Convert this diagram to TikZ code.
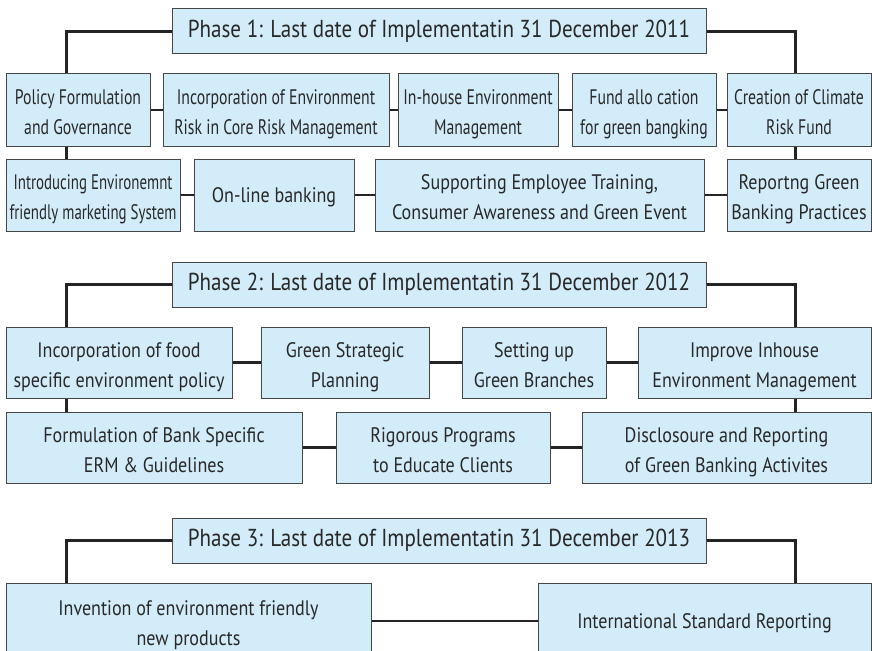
\documentclass[tikz,border=0pt]{standalone}
\usepackage{fontspec}
\setmainfont{PT Sans}
\newfontfamily\widefont[FakeStretch=0.86]{PT Sans}
\newfontfamily\tightfont[FakeStretch=0.75]{PT Sans}
\newfontfamily\squeezefont[FakeStretch=0.71]{PT Sans}
\usepackage{tikz}
\usetikzlibrary{positioning,calc}
\definecolor{boxfill}{RGB}{211,236,249}
\definecolor{boxline}{RGB}{70,70,70}
\definecolor{linkcol}{RGB}{35,35,35}
\definecolor{textcol}{RGB}{40,40,40}

\begin{document}
\begin{tikzpicture}[x=1pt,y=-1pt,phase/.style={draw=boxline,fill=boxfill,line width=1pt,minimum width=534pt,minimum height=45pt,inner sep=0pt,text=textcol,font=\widefont\fontsize{24.5}{28}\selectfont}, task/.style={draw=boxline,fill=boxfill,line width=1pt,minimum height=72pt,inner sep=0pt,align=center,text=textcol,font=\widefont\fontsize{21}{30}\selectfont,execute at begin node={\rule{0pt}{20pt}},execute at end node={\rule[-6pt]{0pt}{6pt}}}, pair/.style={task,execute at begin node={\rule{0pt}{55pt}}}, tight/.style={font=\tightfont\fontsize{21}{30}\selectfont}, squeeze/.style={font=\squeezefont\fontsize{21}{30}\selectfont}, link/.style={line width=2.6pt,draw=linkcol}]
\useasboundingbox (0,0) rectangle (872,650);
\clip (0,0) rectangle (872,650);

\node(p1)[phase] at (439,31.5) {Phase 1: Last date of Implementatin 31 December 2011};
\node(pol)[pair,tight,minimum width=144pt] at (78,110) {Policy Formulation\\and Governance};
\node(inc)[pair,tight,minimum width=226pt] at (276,110) {Incorporation of Environment\\Risk in Core Risk Management};
\node(inh)[pair,tight,minimum width=160pt] at (478,110) {In-house Environment\\Management};
\node(fund)[pair,tight,minimum width=144pt] at (644,110) {Fund allo cation\\for green bangking};
\node(cre)[pair,tight,minimum width=144pt] at (799,110) {Creation of Climate\\Risk Fund};
\node(intro)[pair,squeeze,minimum width=174pt] at (93,195) {Introducing Environemnt\\friendly marketing System};
\node(onl)[task,minimum width=160pt] at (274,195) {On-line banking};
\node(sup)[pair,minimum width=329pt] at (539.5,195) {Supporting Employee Training,\\Consumer Awareness and Green Event};
\node(rep)[pair,minimum width=144pt] at (799,195) {Reportng Green\\Banking Practices};

\node(p2)[phase] at (439,284.5) {Phase 2: Last date of Implementatin 31 December 2012};
\node(food)[pair,minimum width=226pt,minimum height=71pt] at (119,362.5) {Incorporation of food\\specific environment policy};
\node(gsp)[pair,minimum width=168pt,minimum height=71pt] at (345,362.5) {Green Strategic\\Planning};
\node(sgb)[pair,minimum width=144pt,minimum height=71pt] at (534,362.5) {Setting up\\Green Branches};
\node(imp)[pair,minimum width=233pt,minimum height=71pt] at (754.5,362.5) {Improve Inhouse\\Environment Management};
\node(frm)[pair,minimum width=296pt,minimum height=71pt] at (154,447.5) {Formulation of Bank Specific\\ERM \& Guidelines};
\node(rig)[pair,minimum width=214pt,minimum height=71pt] at (443,447.5) {Rigorous Programs\\to Educate Clients};
\node(dis)[pair,minimum width=289pt,minimum height=71pt] at (726.5,447.5) {Disclosoure and Reporting\\of Green Banking Activites};

\node(p3)[phase] at (439,540.5) {Phase 3: Last date of Implementatin 31 December 2013};
\node(inv)[pair,minimum width=365pt,minimum height=76pt] at (188.5,621) {Invention of environment friendly\\new products};
\node(isr)[task,minimum width=333pt,minimum height=76pt] at (704.5,621) {International Standard Reporting};

\draw [link] (p1.west) -| ([xshift=61pt]pol.north west);
\draw [link] (p1.east) -| ([xshift=-76pt]cre.north east);
\draw [link] (pol) to (inc);
\draw [link] (inc) to (inh);
\draw [link] (inh) to (fund);
\draw [link] (fund) to (cre);
\draw [link] ([xshift=61pt]pol.south west) to ([xshift=61pt]pol.south west |- intro.north);
\draw [link] ([xshift=-76pt]cre.south east) to ([xshift=-76pt]cre.south east |- rep.north);
\draw [link] (intro) to (onl);
\draw [link] (onl) to (sup);
\draw [link] (sup) to (rep);

\draw [link] (p2.west) -| ([xshift=61pt]food.north west);
\draw [link] (p2.east) -| ([xshift=-76pt]imp.north east);
\draw [link] (food) to (gsp);
\draw [link] (gsp) to (sgb);
\draw [link] (sgb) to (imp);
\draw [link] ([xshift=61pt]food.south west) to ([xshift=61pt]food.south west |- frm.north);
\draw [link] ([xshift=-76pt]imp.south east) to ([xshift=-76pt]imp.south east |- dis.north);
\draw [link] (frm) to (rig);
\draw [link] (rig) to (dis);

\draw [link] (p3.west) -| ([xshift=61pt]inv.north west);
\draw [link] (p3.east) -| ([xshift=-76pt]isr.north east);
\draw [link] (inv) to (isr);
\end{tikzpicture}
\end{document}
